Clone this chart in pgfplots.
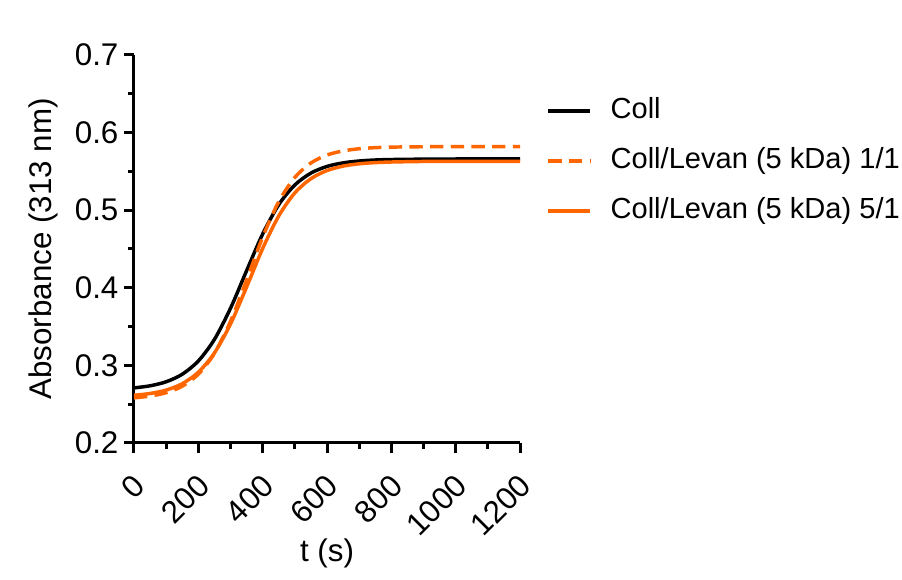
\documentclass[border=0pt]{standalone}
\usepackage{fontspec}
\setmainfont{Liberation Sans}
\usepackage{pgfplots}
\pgfplotsset{compat=1.18}
\definecolor{orng}{RGB}{255,102,0}

\begin{document}
\begin{tikzpicture}[font=\fontsize{23.5}{28}\selectfont]
\useasboundingbox (-100.5pt,-102.75pt) rectangle (576pt,332.25pt);
\begin{axis}[
scale only axis,
width=289.5pt, height=291pt,
xmin=0, xmax=1200, ymin=0.2, ymax=0.7,
axis lines*=left,
tick pos=left,
tick align=outside,
xtick={0,200,...,1200},
ytick={0.2,0.3,...,0.7},
minor tick num=1,
axis line style={line width=2.25pt},
every tick/.style={black, line width=2.25pt},
major tick length=7.5pt,
minor tick length=4.5pt,
/pgf/number format/assume math mode=true,
/pgf/number format/1000 sep={},
yticklabel style={inner sep=4pt, /pgf/number format/.cd, fixed, fixed zerofill, precision=1},
xticklabel style={rotate=45, anchor=north east, inner sep=2pt, xshift=-9.5pt, yshift=-7pt},
tick label style={font=\fontsize{23.5}{28}\selectfont},
xlabel={t (s)},
ylabel={Absorbance (313 nm)},
every axis x label/.style={at={(axis description cs:0.5,-0.2835)}, anchor=center},
every axis y label/.style={at={(axis description cs:-0.235,0.5)}, rotate=90, anchor=center},
legend cell align=left,
legend image code/.code={\draw[#1] (0pt,0pt) -- (31.5pt,0pt);},
legend style={draw=none, fill=none, at={(rel axis cs:1.068,0.892)}, anchor=north west,
  inner sep=0pt, row sep=16.5pt,
  nodes={inner sep=0pt, text height=16pt, text depth=5pt},
  /tikz/every odd column/.append style={column sep=14pt},
  font=\fontsize{21.8}{26}\selectfont},
]
\addplot [black, line width=2.6pt, smooth] coordinates {
(0,0.2710) (50,0.2737) (100,0.2789) (150,0.2886) (200,0.3057) (250,0.3335)
(300,0.3736) (350,0.4220) (400,0.4693) (450,0.5071) (500,0.5325) (550,0.5478)
(600,0.5564) (650,0.5610) (700,0.5634) (750,0.5647) (800,0.5653) (900,0.5658)
(1000,0.5660) (1100,0.5660) (1200,0.5660)};
\addlegendentry{Coll}
\addplot [orng, line width=2.6pt, smooth, dash pattern=on 10pt off 5.5pt] coordinates {
(0,0.2582) (50,0.2605) (100,0.2648) (150,0.2732) (200,0.2887) (250,0.3155)
(300,0.3567) (350,0.4099) (400,0.4652) (450,0.5110) (500,0.5422) (550,0.5608)
(600,0.5711) (650,0.5764) (700,0.5792) (750,0.5806) (800,0.5813) (900,0.5818)
(1000,0.5820) (1100,0.5820) (1200,0.5820)};
\addlegendentry{Coll/Levan (5 kDa) 1/1}
\addplot [orng, line width=2.6pt, smooth] coordinates {
(0,0.2615) (50,0.2638) (100,0.2682) (150,0.2764) (200,0.2912) (250,0.3160)
(300,0.3533) (350,0.4009) (400,0.4506) (450,0.4926) (500,0.5223) (550,0.5406)
(600,0.5511) (650,0.5568) (700,0.5598) (750,0.5613) (800,0.5621) (900,0.5628)
(1000,0.5629) (1100,0.5630) (1200,0.5630)};
\addlegendentry{Coll/Levan (5 kDa) 5/1}
\end{axis}
\end{tikzpicture}
\end{document}
